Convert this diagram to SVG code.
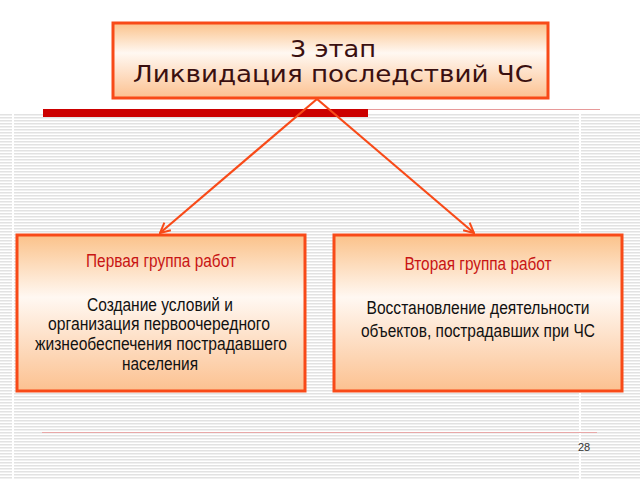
<svg xmlns="http://www.w3.org/2000/svg" width="640" height="480" viewBox="0 0 640 480">
<style>
.box{stroke:#f84a18;stroke-width:3}
.conn{stroke:#f84a18;stroke-width:2.2;fill:none}
.ttl{font-family:"DejaVu Sans",Verdana,sans-serif;font-size:23px;fill:#3a1010;text-anchor:middle}
.hd{font-family:"Liberation Sans",Arial,sans-serif;font-size:17.5px;fill:#c81414;text-anchor:middle}
.tx{font-family:"Liberation Sans",Arial,sans-serif;font-size:17.5px;fill:#111;text-anchor:middle}
.num{font-family:"Liberation Sans",Arial,sans-serif;font-size:11px;fill:#333}
</style>
<defs>
<pattern id="stripes" x="0" y="0" width="8" height="3" patternUnits="userSpaceOnUse">
<rect width="8" height="3" fill="#ffffff"/>
<rect width="8" height="1.5" fill="#e2e2e2"/>
</pattern>
<linearGradient id="g" x1="0" y1="0" x2="0" y2="1">
<stop offset="0" stop-color="#fbc28a"/>
<stop offset="0.4" stop-color="#fff8f2"/>
<stop offset="1" stop-color="#fcc190"/>
</linearGradient>
<marker id="arr" viewBox="0 0 12 12" refX="11" refY="6" markerWidth="12" markerHeight="12" markerUnits="userSpaceOnUse" orient="auto">
<path d="M1,1 L11,6 L1,11" fill="none" stroke="#f84a18" stroke-width="2"/>
</marker>
</defs>
<rect width="640" height="480" fill="#ffffff"/>
<rect x="0" y="113" width="640" height="367" fill="url(#stripes)"/>
<rect x="12" y="113" width="2" height="367" fill="#ffffff"/>
<rect x="579" y="113" width="2" height="367" fill="#ffffff"/>
<rect x="43" y="109" width="325" height="8" fill="#cc0000"/>
<line x1="368" y1="109.5" x2="600" y2="109.5" stroke="#e79a9a" stroke-width="1"/>
<line x1="42" y1="432.5" x2="597" y2="432.5" stroke="#e8a8a8" stroke-width="1"/>
<g id="connectors">
<line class="conn" x1="317" y1="99" x2="160" y2="233" marker-end="url(#arr)"/>
<line class="conn" x1="317" y1="99" x2="474" y2="233" marker-end="url(#arr)"/>
</g>
<g id="node-top">
<rect class="box" x="113" y="23" width="435" height="75" fill="url(#g)"/>
<text class="ttl" x="333" y="57" textLength="86" lengthAdjust="spacingAndGlyphs">3 этап</text>
<text class="ttl" x="333" y="82" textLength="400" lengthAdjust="spacingAndGlyphs">Ликвидация последствий ЧС</text>
</g>
<g id="node-left">
<rect class="box" x="17" y="235" width="288" height="156" fill="url(#g)"/>
<text class="hd" x="161" y="267" textLength="150" lengthAdjust="spacingAndGlyphs">Первая группа работ</text>
<text class="tx" x="160" y="311" textLength="146" lengthAdjust="spacingAndGlyphs">Создание условий и</text>
<text class="tx" x="159" y="330" textLength="222" lengthAdjust="spacingAndGlyphs">организация первоочередного</text>
<text class="tx" x="161" y="350" textLength="252" lengthAdjust="spacingAndGlyphs">жизнеобеспечения пострадавшего</text>
<text class="tx" x="160" y="370" textLength="76" lengthAdjust="spacingAndGlyphs">населения</text>
</g>
<g id="node-right">
<rect class="box" x="334" y="235" width="288" height="156" fill="url(#g)"/>
<text class="hd" x="478" y="270" textLength="147" lengthAdjust="spacingAndGlyphs">Вторая группа работ</text>
<text class="tx" x="478" y="314" textLength="223" lengthAdjust="spacingAndGlyphs">Восстановление деятельности</text>
<text class="tx" x="478" y="337" textLength="234" lengthAdjust="spacingAndGlyphs">объектов, пострадавших при ЧС</text>
</g>
<text class="num" x="578" y="451">28</text>
</svg>
